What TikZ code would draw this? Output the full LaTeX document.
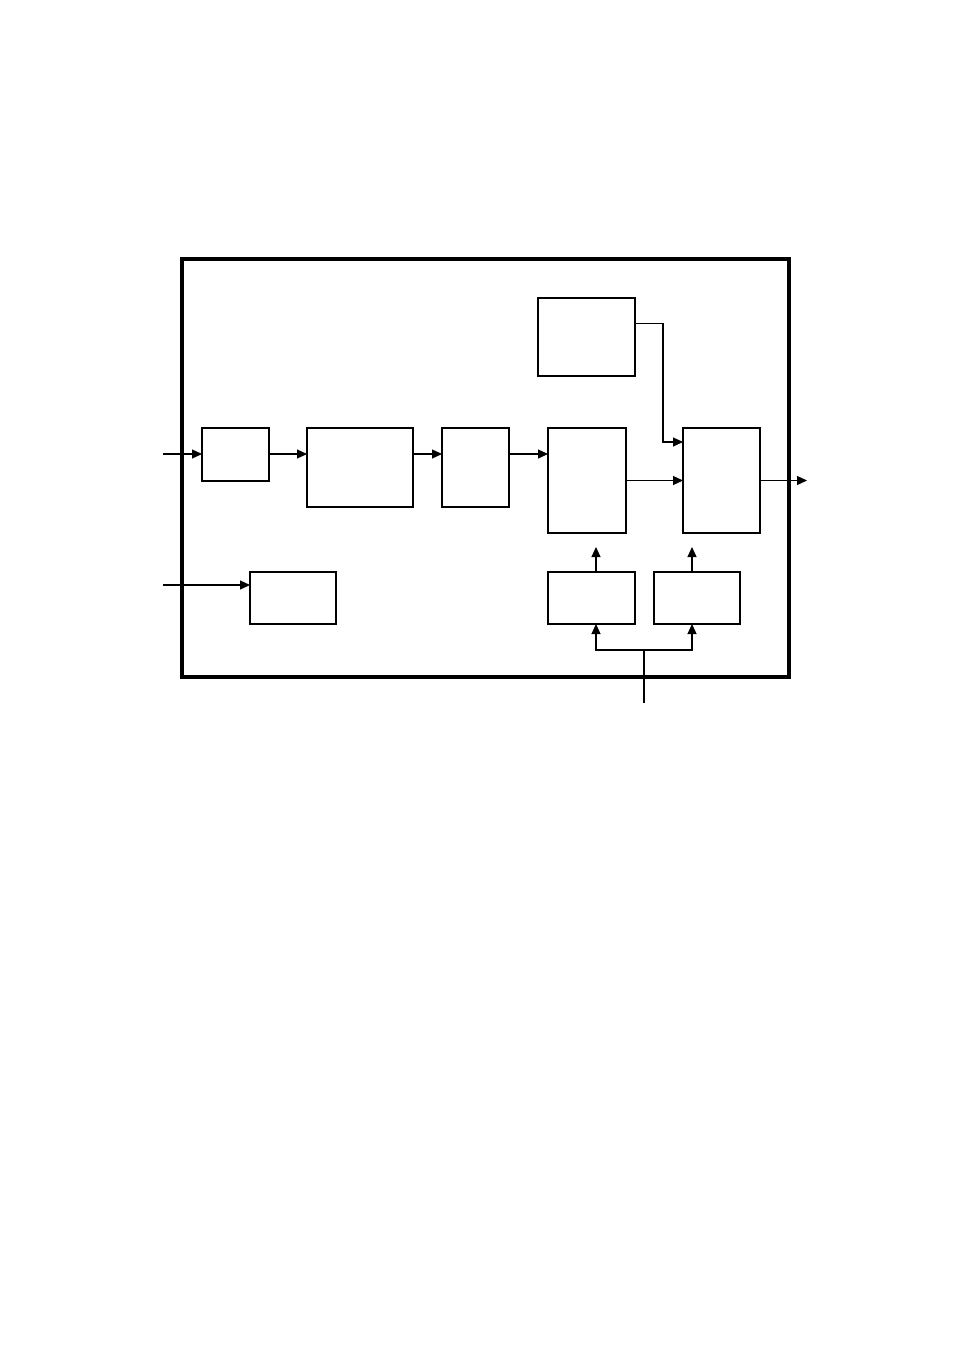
\documentclass[tikz,border=0pt]{standalone}
\usepackage{tikz}
\usetikzlibrary{arrows.meta,positioning,calc}
\tikzstyle{block}=[draw,line width=1.3pt,inner sep=0pt,outer sep=0pt]
\tikzstyle{arr}=[line width=1.2pt,-{Triangle[length=10pt,width=9pt]}]
\tikzstyle{wire}=[line width=1.2pt]

\begin{document}
\begin{tikzpicture}[x=1pt,y=-1pt]
\useasboundingbox (0,0) rectangle (954,1351);
% outer frame
\draw [line width=3.2pt] (182,259) rectangle (789,677);
% main chain
\node [block,minimum width=67pt,minimum height=53pt] (inbuf) at (235.5,454.5) {};
\node [block,minimum width=106pt,minimum height=79pt] (filt) at (360,467.5) {};
\node [block,minimum width=67pt,minimum height=79pt] (amp) at (475.5,467.5) {};
\node [block,minimum width=78pt,minimum height=105pt] (mix) at (587,480.5) {};
\node [block,minimum width=77pt,minimum height=105pt] (outst) at (721.5,480.5) {};
% upper and lower blocks
\node [block,minimum width=97pt,minimum height=78pt] (osc) at (586.5,337) {};
\node [block,minimum width=86pt,minimum height=52pt] (aux) at (293,598) {};
\node [block,minimum width=87pt,minimum height=52pt] (ctla) at (591.5,598) {};
\node [block,minimum width=86pt,minimum height=52pt] (ctlb) at (697,598) {};
% free ends
\coordinate (in1) at (163,454);
\coordinate (in2) at (163,585);
\coordinate (outp) at (807,480.5);
\coordinate (bend) at (663,442);
\coordinate (upa) at (596,547);
\coordinate (upb) at (692,547);
\coordinate (ctl) at (644,703);
\coordinate (split) at (644,650);
% connectors
\draw [arr] (in1) -- (in1 -| inbuf.west);
\draw [arr] (in1 -| inbuf.east) -- (in1 -| filt.west);
\draw [arr] (in1 -| filt.east) -- (in1 -| amp.west);
\draw [arr] (in1 -| amp.east) -- (in1 -| mix.west);
\draw [arr] (mix.east) -- (outst.west);
\draw [arr] (outst.east) -- (outp);
\draw [arr] ($(osc.north east)!0.33!(osc.south east)$) -| (bend) -- (bend -| outst.west);
\draw [arr] (in2) -- (in2 -| aux.west);
\draw [arr] (upa |- ctla.north) -- (upa);
\draw [arr] (upb |- ctlb.north) -- (upb);
\draw [wire] (ctl) -- (split);
\draw [arr] (split) -| (upa |- ctla.south);
\draw [arr] (split) -| (upb |- ctlb.south);
\end{tikzpicture}
\end{document}
